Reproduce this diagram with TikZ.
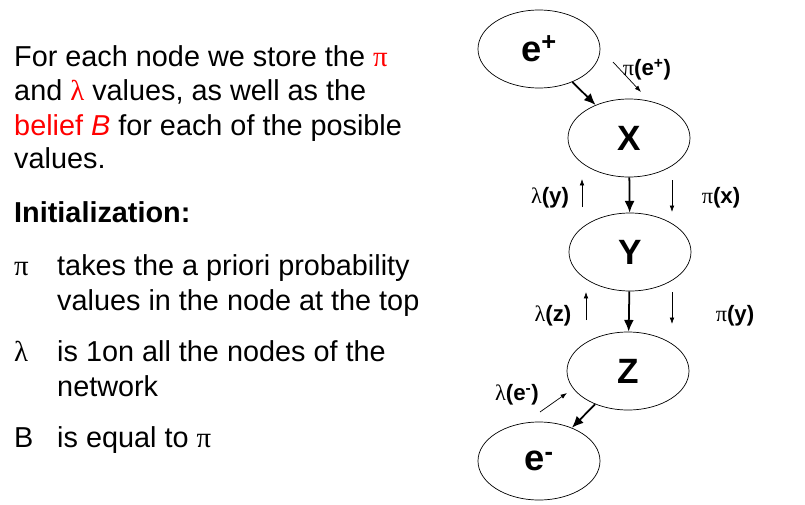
\documentclass[tikz,border=0pt]{standalone}
\usepackage{fontspec}
\setmainfont{Liberation Sans}
\newfontfamily\greekfont{Liberation Serif}
\usetikzlibrary{shapes.geometric,arrows.meta}
\newcommand\gk[1]{{\greekfont\mdseries\upshape #1}}
\tikzset{
	var/.style={ellipse, draw, line width=0.6pt, minimum width=3.66cm, minimum height=2.34cm, inner sep=0pt, font=\fontsize{30}{30}\selectfont\bfseries},
	flow/.style={line width=1.5pt, -{Latex[length=10pt,width=8.5pt]}},
	msg/.style={line width=0.6pt, -{Latex[length=5.5pt,width=4pt]}},
	lab/.style={inner sep=0pt, font=\fontsize{19}{21}\selectfont\bfseries},
	txt/.style={anchor=base west, inner sep=0pt, font=\fontsize{24.6}{29}\selectfont}
}

\begin{document}
\begin{tikzpicture}[x=0.03cm,y=-0.03cm]
		\useasboundingbox (0,0) rectangle (805,505);
		% the network
		\node[var] (ep) at (539,49) {\fontsize{31}{31}\selectfont e\textsuperscript{+}};
		\node[var] (X) at (629,138) {X};
		\node[var] (Y) at (630,252) {Y};
		\node[var] (Z) at (628,371) {Z};
		\node[var] (em) at (539,461) {\fontsize{31}{31}\selectfont e\textsuperscript{-}};
		\draw[flow] (ep) -- (X);
		\draw[flow] (X) -- (Y);
		\draw[flow] (Y) -- (Z);
		\draw[flow] (Z) -- (em);
		% messages
		\path (613,62) coordinate (pe-s) (641,92) coordinate (pe-t)
			(582,207) coordinate (ly-s) (582,179) coordinate (ly-t)
			(672,180) coordinate (px-s) (672,212) coordinate (px-t)
			(586,320) coordinate (lz-s) (586,292) coordinate (lz-t)
			(672,292) coordinate (py-s) (672,324) coordinate (py-t)
			(540,412) coordinate (le-s) (567,393) coordinate (le-t);
		\foreach \m in {pe,ly,px,lz,py,le} \draw[msg] (\m-s) -- (\m-t);
		\node[lab] (pe) at (647,70) {\gk{π}(e\textsuperscript{+})};
		\node[lab] (ly) at (550,198) {\gk{λ}(y)};
		\node[lab] (px) at (721,198) {\gk{π}(x)};
		\node[lab] (lz) at (553,316) {\gk{λ}(z)};
		\node[lab] (py) at (735,316) {\gk{π}(y)};
		\node[lab] (le) at (517,395) {\gk{λ}(e\textsuperscript{-})};
		% text
		\node[txt] (t1) at (14,66) {For each node we store the \textcolor{red}{\gk{π}}};
		\node[txt] (t2) at (14,100) {and \textcolor{red}{\gk{λ}} values, as well as the};
		\node[txt] (t3) at (14,135) {\textcolor{red}{belief \textit{B}} for each of the posible};
		\node[txt] (t4) at (14,168) {values.};
		\node[txt] (t5) at (14,222) {\bfseries Initialization:};
		\node[txt] (b1) at (14,275) {\gk{π}};
		\node[txt] (i1) at (57,275) {takes the a priori probability};
		\node[txt] (i2) at (57,310) {values in the node at the top};
		\node[txt] (b2) at (14,361) {\gk{λ}};
		\node[txt] (i3) at (57,361) {is 1on all the nodes of the};
		\node[txt] (i4) at (57,396) {network};
		\node[txt] (b3) at (14,447) {B};
		\node[txt] (i5) at (57,447) {is equal to \gk{π}};
	\end{tikzpicture}
\end{document}
